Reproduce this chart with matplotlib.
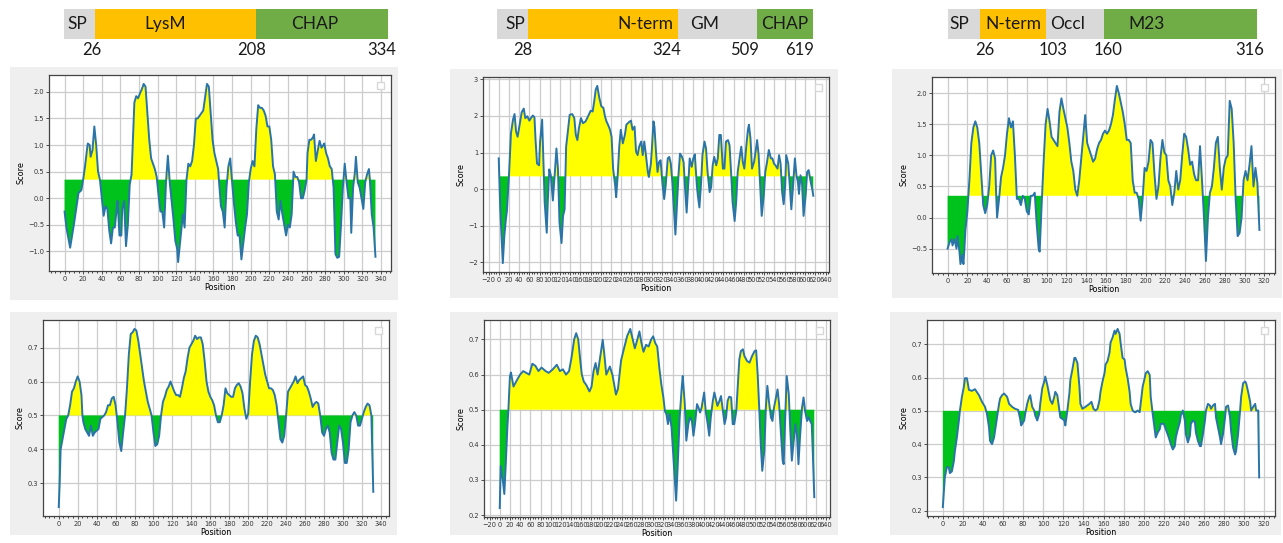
import numpy as np
import matplotlib
matplotlib.use('Agg')
import matplotlib.pyplot as plt
from matplotlib.patches import Rectangle
from matplotlib.ticker import MultipleLocator, AutoMinorLocator

W, H = 1283, 543

# ---- domain maps (label, end residue) ----
D1_NAMES = ['SP', 'LysM', 'CHAP']
D1_ENDS = [26, 208, 334]
D2_NAMES = ['SP', 'N-term', 'GM', 'CHAP']
D2_ENDS = [28, 324, 509, 619]
D3_NAMES = ['SP', 'N-term', 'Occl', 'M23']
D3_ENDS = [26, 103, 160, 316]

GREY, ORANGE, GREEN = '#d9d9d9', '#ffc000', '#70ad47'
D1_COLORS = [GREY, ORANGE, GREEN]
D2_COLORS = [GREY, ORANGE, GREY, GREEN]
D3_COLORS = [GREY, ORANGE, GREY, GREEN]

# ---- antigenicity profiles (top row, threshold 0.35) ----
T1_POS = [0, 2, 6, 10, 15, 18, 20, 22, 24, 25, 27, 28, 30, 32, 34, 36, 38, 40, 42, 44,
          46, 48, 50, 52, 54, 56, 57, 59, 61, 62, 64, 66, 68, 70, 72, 73, 75, 77, 79, 81,
          83, 85, 87, 89, 91, 93, 95, 97, 99, 101, 103, 105, 107, 109, 111, 113, 115, 117, 119, 121,
          122, 124, 126, 127, 129, 131, 133, 135, 137, 139, 141, 143, 145, 147, 149, 151, 153, 155, 157, 159,
          161, 163, 165, 166, 168, 170, 172, 174, 176, 178, 180, 182, 184, 186, 188, 190, 192, 194, 196, 198,
          200, 202, 204, 206, 208, 210, 212, 214, 216, 218, 220, 222, 224, 226, 228, 230, 232, 234, 236, 238,
          240, 242, 244, 246, 248, 250, 252, 254, 256, 258, 260, 261, 263, 265, 267, 268, 270, 272, 274, 276,
          278, 279, 281, 283, 285, 287, 289, 291, 293, 295, 297, 299, 301, 303, 305, 307, 308, 310, 312, 313,
          315, 317, 319, 321, 323, 325, 327, 328, 330, 332, 334]
T1_SCORE = [-0.25, -0.55, -0.93, -0.5, 0.1, 0.15, 0.35, 0.6, 0.9, 1.03, 1.0, 0.78, 0.9, 1.35, 1.0, 0.5, 0.35, 0.0, -0.33, -0.15,
            -0.2, -0.6, -0.85, -0.55, -0.55, -0.2, -0.05, -0.7, -0.7, -0.2, -0.05, -0.9, -0.5, 0.25, 0.45, 0.9, 1.8, 1.92, 1.88, 1.97,
            2.05, 2.15, 2.1, 1.6, 1.1, 0.75, 0.65, 0.55, 0.4, 0.05, -0.25, -0.25, -0.55, 0.3, 0.8, 0.3, -0.05, -0.4, -0.8, -0.95,
            -1.2, -0.85, -0.5, -0.3, -0.55, 0.35, 0.65, 0.6, 0.7, 1.0, 1.5, 1.5, 1.55, 1.6, 1.65, 1.9, 2.15, 2.1, 1.6, 1.1,
            0.85, 0.7, 0.55, 0.3, -0.15, -0.25, -0.55, 0.2, 0.6, 0.75, 0.3, -0.1, -0.45, -0.7, -0.7, -1.15, -0.85, -0.55, -0.3, 0.3,
            0.55, 0.7, 0.6, 1.3, 1.75, 1.7, 1.7, 1.65, 1.55, 1.35, 1.35, 1.1, 0.6, 0.45, -0.25, -0.4, -0.05, -0.3, -0.5, -0.7,
            -0.5, -0.55, -0.3, 0.5, 0.4, 0.4, 0.3, 0.0, 0.0, 0.15, 0.35, 0.85, 1.1, 1.1, 1.15, 1.2, 0.7, 0.9, 1.08, 0.95,
            1.0, 1.03, 0.85, 0.75, 0.6, 0.55, 0.2, -1.05, -1.12, -1.1, -0.5, 0.2, 0.65, 0.3, 0.0, 0.0, -0.65, 0.2, 0.5, 0.78,
            0.3, 0.2, 0.0, -0.2, 0.3, 0.45, 0.55, 0.35, -0.3, -0.55, -1.1]

T2_POS = [0, 3, 8, 11, 14, 16, 20, 24, 28, 31, 34, 37, 41, 45, 49, 52, 56, 60, 64, 67,
          70, 72, 75, 79, 81, 85, 87, 90, 94, 96, 99, 102, 106, 110, 113, 116, 119, 123, 126, 129,
          132, 136, 139, 144, 148, 151, 154, 157, 161, 165, 170, 175, 180, 184, 187, 190, 193, 197, 201, 205,
          208, 211, 214, 218, 221, 224, 228, 230, 233, 236, 239, 243, 247, 250, 255, 259, 262, 266, 269, 272,
          275, 279, 282, 285, 288, 292, 294, 298, 300, 303, 305, 308, 311, 314, 317, 321, 324, 327, 331, 334,
          337, 340, 344, 346, 348, 352, 355, 359, 362, 365, 368, 371, 374, 378, 381, 384, 388, 390, 393, 396,
          399, 403, 406, 409, 413, 416, 419, 422, 426, 429, 432, 435, 439, 442, 445, 449, 452, 455, 458, 462,
          465, 468, 472, 475, 478, 481, 485, 488, 490, 493, 496, 500, 503, 506, 509, 512, 515, 519, 522, 525,
          529, 533, 536, 539, 542, 546, 549, 552, 555, 558, 561, 563, 567, 570, 573, 576, 580, 583, 586, 588,
          591, 594, 597, 601, 604, 607, 611, 614, 616]
T2_SCORE = [0.84, -0.55, -2.02, -1.28, -0.82, -0.6, 0.36, 1.53, 1.9, 2.05, 1.57, 1.43, 1.76, 2.1, 2.2, 1.94, 1.99, 1.87, 1.96, 2.01,
            1.96, 1.38, 0.7, 0.65, 1.3, 1.9, 1.02, -0.36, -1.19, -0.36, 0.54, 0.38, -0.31, 0.47, 1.11, 0.56, -0.91, -1.47, -0.73, -0.55,
            1.16, 1.66, 2.03, 2.05, 1.94, 1.48, 1.34, 1.66, 1.94, 1.8, 1.85, 1.99, 2.14, 2.12, 2.4, 2.72, 2.82, 2.49, 2.26, 2.22,
            1.99, 1.85, 1.76, 1.62, 1.43, 0.56, 0.1, -0.22, 0.38, 1.16, 1.62, 1.25, 1.48, 1.76, 1.83, 1.87, 1.62, 1.71, 1.02, 0.93,
            1.16, 1.3, 0.93, 1.3, 0.97, 0.47, 0.33, 0.7, 1.11, 1.85, 1.7, 1.02, 0.47, 0.74, 0.79, 0.1, -0.27, 0.1, 0.84, 0.88,
            0.7, 0.19, -0.73, -1.24, -0.73, 0.38, 0.97, 0.88, 0.74, 0.0, -0.64, 0.1, 0.84, 0.61, 0.84, 0.95, 0.1, -0.18, -0.5, 0.1,
            0.93, 1.3, 1.11, 0.47, -0.08, 0.05, 0.65, 0.88, 0.65, 0.84, 1.48, 1.48, 0.56, 0.56, 1.3, 1.34, 1.2, 0.47, -0.36, -0.87,
            -0.36, 0.47, 0.88, 1.16, 0.74, 0.56, 1.2, 1.62, 1.76, 1.39, 0.56, 0.74, 1.02, 1.34, 0.93, 0.1, -0.73, -0.18, 0.47, 0.7,
            1.07, 0.84, 0.84, 0.7, 0.65, 0.56, 0.93, 0.7, -0.08, -0.41, 0.1, 0.93, 0.7, 0.1, -0.55, 0.0, 0.84, 0.38, 0.19, -0.13,
            0.38, 0.15, -0.73, -0.18, 0.47, 0.52, 0.19, 0.0, -0.18]

T3_POS = [0, 2, 4, 5, 7, 9, 10, 12, 13, 15, 16, 17, 18, 20, 22, 24, 26, 28, 30, 32,
          34, 36, 38, 40, 42, 44, 46, 48, 49, 50, 52, 54, 56, 58, 60, 62, 64, 66, 68, 70,
          72, 74, 76, 78, 80, 82, 84, 86, 88, 90, 92, 93, 95, 97, 99, 101, 103, 105, 107, 109,
          111, 113, 115, 117, 119, 121, 123, 125, 127, 129, 131, 133, 135, 137, 139, 141, 143, 145, 147, 149,
          151, 153, 155, 157, 159, 161, 163, 165, 167, 169, 171, 173, 175, 177, 179, 181, 183, 185, 187, 189,
          191, 193, 195, 197, 199, 201, 203, 205, 207, 209, 211, 213, 215, 217, 219, 221, 223, 225, 227, 229,
          231, 233, 235, 237, 239, 241, 243, 245, 247, 249, 251, 253, 255, 257, 259, 261, 263, 265, 267, 269,
          271, 273, 275, 277, 279, 281, 283, 285, 287, 289, 291, 293, 295, 297, 299, 301, 303, 305, 307, 309,
          311, 313, 315]
T3_SCORE = [-0.5, -0.4, -0.35, -0.45, -0.35, -0.5, -0.3, -0.55, -0.75, -0.6, -0.75, -0.5, -0.2, 0.1, 0.6, 1.2, 1.45, 1.55, 1.45, 1.2,
            0.7, 0.2, 0.07, 0.2, 0.5, 1.0, 1.08, 0.95, 0.4, 0.0, 0.3, 0.65, 0.8, 1.0, 1.35, 1.6, 1.45, 1.55, 1.0, 0.3,
            0.3, 0.2, 0.35, 0.3, 0.1, 0.05, 0.35, 0.35, 0.4, -0.1, -0.5, -0.55, 0.2, 0.9, 1.5, 1.75, 1.55, 1.3, 1.25, 1.2,
            1.15, 1.7, 1.92, 1.75, 1.6, 1.45, 1.2, 0.9, 0.75, 0.45, 0.35, 0.6, 0.95, 1.3, 1.65, 1.2, 1.1, 1.0, 0.9, 0.95,
            1.1, 1.2, 1.25, 1.35, 1.4, 1.35, 1.4, 1.5, 1.65, 1.9, 2.12, 2.0, 1.85, 1.7, 1.5, 1.25, 1.25, 1.2, 0.6, 0.4,
            0.4, 0.3, -0.05, 0.3, 0.8, 0.75, 0.9, 1.25, 1.2, 0.7, 0.3, 0.5, 0.95, 1.25, 1.05, 1.0, 0.6, 0.5, 0.2, 0.4,
            0.75, 0.45, 0.6, 1.0, 1.35, 1.3, 1.1, 0.85, 0.9, 0.7, 0.6, 0.6, 1.15, 0.6, 0.0, -0.7, 0.0, 0.4, 0.5, 0.8,
            1.2, 1.3, 0.8, 0.45, 0.8, 0.95, 1.0, 1.88, 1.75, 1.2, 0.3, -0.3, -0.25, 0.0, 0.6, 0.75, 0.6, 0.85, 1.15, 0.5,
            0.8, 0.55, -0.2]

# ---- surface probability profiles (bottom row, threshold 0.5) ----
B1_POS = [0, 1, 2, 4, 6, 8, 10, 12, 14, 16, 18, 20, 22, 24, 25, 26, 28, 30, 32, 34,
          36, 38, 40, 42, 44, 46, 48, 50, 52, 54, 56, 58, 60, 62, 64, 66, 68, 70, 72, 74,
          76, 78, 80, 82, 84, 86, 88, 90, 92, 94, 96, 98, 100, 102, 104, 106, 108, 110, 112, 114,
          116, 118, 120, 122, 124, 126, 128, 130, 132, 134, 136, 138, 140, 142, 144, 146, 148, 150, 152, 154,
          156, 158, 160, 162, 164, 166, 168, 170, 172, 174, 176, 178, 180, 182, 184, 186, 188, 190, 192, 194,
          196, 198, 200, 202, 204, 206, 208, 210, 212, 214, 216, 218, 220, 222, 224, 226, 228, 230, 232, 234,
          236, 238, 240, 242, 244, 246, 248, 250, 252, 254, 256, 258, 260, 262, 264, 266, 268, 270, 272, 274,
          276, 278, 280, 282, 284, 286, 288, 290, 292, 294, 296, 298, 300, 302, 304, 306, 308, 310, 312, 314,
          316, 318, 320, 322, 324, 326, 328, 330, 332]
B1_SCORE = [0.23, 0.3, 0.4, 0.43, 0.46, 0.49, 0.5, 0.53, 0.57, 0.58, 0.6, 0.615, 0.6, 0.56, 0.5, 0.48, 0.46, 0.45, 0.44, 0.47,
            0.44, 0.45, 0.455, 0.46, 0.49, 0.495, 0.5, 0.51, 0.53, 0.53, 0.55, 0.555, 0.53, 0.48, 0.42, 0.395, 0.45, 0.5, 0.58, 0.68,
            0.74, 0.745, 0.755, 0.75, 0.72, 0.68, 0.64, 0.6, 0.57, 0.54, 0.52, 0.5, 0.45, 0.41, 0.415, 0.44, 0.5, 0.54, 0.555, 0.575,
            0.585, 0.6, 0.585, 0.57, 0.56, 0.56, 0.555, 0.58, 0.61, 0.63, 0.67, 0.7, 0.71, 0.72, 0.735, 0.725, 0.73, 0.73, 0.71, 0.66,
            0.6, 0.57, 0.555, 0.545, 0.53, 0.5, 0.48, 0.48, 0.5, 0.53, 0.58, 0.565, 0.56, 0.555, 0.555, 0.58, 0.59, 0.595, 0.585, 0.565,
            0.52, 0.49, 0.505, 0.6, 0.68, 0.72, 0.735, 0.73, 0.71, 0.68, 0.65, 0.62, 0.6, 0.58, 0.58, 0.575, 0.56, 0.53, 0.48, 0.43,
            0.42, 0.44, 0.5, 0.57, 0.58, 0.59, 0.6, 0.615, 0.595, 0.605, 0.61, 0.615, 0.59, 0.585, 0.57, 0.55, 0.525, 0.535, 0.54, 0.535,
            0.5, 0.45, 0.44, 0.46, 0.47, 0.45, 0.39, 0.37, 0.37, 0.42, 0.47, 0.46, 0.42, 0.36, 0.36, 0.4, 0.48, 0.5, 0.51, 0.5,
            0.47, 0.47, 0.49, 0.51, 0.525, 0.535, 0.53, 0.5, 0.275]

B2_POS = [0, 2, 6, 9, 12, 15, 17, 20, 22, 27, 34, 40, 46, 52, 58, 64, 70, 76, 82, 90,
          96, 104, 112, 118, 124, 130, 136, 141, 146, 150, 154, 158, 161, 165, 170, 176, 180, 184, 188, 192,
          196, 202, 205, 209, 216, 221, 228, 232, 238, 243, 250, 256, 261, 265, 270, 274, 278, 282, 287, 292,
          297, 301, 305, 309, 313, 317, 321, 324, 327, 330, 333, 337, 342, 346, 349, 353, 357, 359, 363, 366,
          370, 373, 377, 380, 383, 387, 390, 393, 396, 401, 404, 408, 411, 414, 418, 421, 424, 427, 431, 434,
          437, 441, 444, 447, 450, 454, 457, 460, 464, 467, 470, 473, 477, 480, 485, 490, 495, 500, 503, 506,
          509, 512, 515, 519, 522, 525, 528, 532, 535, 538, 542, 545, 548, 551, 555, 557, 560, 563, 567, 570,
          573, 576, 580, 583, 586, 589, 593, 596, 599, 603, 606, 609, 612, 614, 617]
B2_SCORE = [0.22, 0.34, 0.3, 0.26, 0.35, 0.45, 0.5, 0.595, 0.606, 0.566, 0.585, 0.6, 0.61, 0.605, 0.6, 0.631, 0.625, 0.61, 0.62, 0.61,
            0.605, 0.615, 0.628, 0.61, 0.615, 0.6, 0.61, 0.65, 0.7, 0.718, 0.7, 0.64, 0.6, 0.58, 0.57, 0.552, 0.565, 0.61, 0.633, 0.6,
            0.64, 0.699, 0.66, 0.6, 0.623, 0.6, 0.543, 0.56, 0.64, 0.67, 0.71, 0.73, 0.7, 0.675, 0.7, 0.723, 0.69, 0.665, 0.685, 0.68,
            0.7, 0.709, 0.69, 0.68, 0.62, 0.572, 0.535, 0.496, 0.487, 0.459, 0.487, 0.45, 0.336, 0.241, 0.336, 0.478, 0.563, 0.596, 0.516, 0.412,
            0.459, 0.478, 0.468, 0.426, 0.459, 0.516, 0.506, 0.492, 0.506, 0.549, 0.496, 0.459, 0.426, 0.478, 0.525, 0.549, 0.53, 0.511, 0.525, 0.539,
            0.506, 0.459, 0.478, 0.525, 0.537, 0.535, 0.459, 0.459, 0.496, 0.572, 0.643, 0.667, 0.672, 0.653, 0.639, 0.634, 0.653, 0.667, 0.669, 0.6,
            0.506, 0.402, 0.326, 0.383, 0.506, 0.568, 0.525, 0.478, 0.468, 0.506, 0.535, 0.558, 0.516, 0.449, 0.355, 0.345, 0.478, 0.596, 0.544, 0.44,
            0.355, 0.402, 0.459, 0.43, 0.345, 0.421, 0.506, 0.535, 0.496, 0.468, 0.478, 0.468, 0.459, 0.383, 0.251]

B3_POS = [0, 2, 4, 6, 7, 9, 11, 12, 14, 16, 17, 19, 21, 22, 24, 26, 29, 32, 36, 39,
          42, 44, 46, 47, 49, 51, 52, 54, 56, 57, 59, 61, 64, 66, 69, 72, 75, 77, 78, 81,
          82, 84, 86, 87, 89, 91, 92, 94, 96, 97, 99, 101, 102, 104, 106, 107, 109, 111, 112, 114,
          116, 117, 119, 121, 122, 124, 126, 127, 129, 131, 132, 134, 136, 137, 139, 142, 146, 148, 150, 152,
          154, 156, 157, 159, 161, 162, 164, 166, 167, 169, 171, 172, 174, 176, 177, 179, 181, 182, 184, 186,
          187, 189, 191, 192, 194, 196, 197, 199, 201, 202, 204, 206, 207, 209, 211, 212, 214, 216, 217, 220,
          222, 225, 227, 229, 231, 232, 234, 236, 237, 239, 241, 242, 244, 246, 247, 249, 251, 252, 254, 256,
          257, 259, 261, 262, 264, 266, 267, 269, 271, 272, 274, 276, 277, 279, 281, 282, 284, 286, 287, 289,
          291, 292, 294, 296, 297, 299, 301, 302, 304, 306, 307, 309, 311, 312, 314, 315]
B3_SCORE = [0.211, 0.3, 0.331, 0.33, 0.313, 0.318, 0.349, 0.379, 0.42, 0.471, 0.5, 0.542, 0.573, 0.598, 0.598, 0.563, 0.56, 0.565, 0.547, 0.527,
            0.512, 0.49, 0.45, 0.41, 0.4, 0.42, 0.44, 0.48, 0.521, 0.537, 0.547, 0.552, 0.542, 0.521, 0.512, 0.506, 0.503, 0.476, 0.456, 0.471,
            0.491, 0.521, 0.542, 0.547, 0.512, 0.501, 0.486, 0.471, 0.491, 0.521, 0.568, 0.588, 0.603, 0.578, 0.547, 0.532, 0.521, 0.542, 0.557, 0.547,
            0.501, 0.48, 0.476, 0.471, 0.456, 0.501, 0.552, 0.593, 0.624, 0.659, 0.659, 0.644, 0.573, 0.521, 0.506, 0.512, 0.521, 0.527, 0.506, 0.501,
            0.506, 0.532, 0.557, 0.588, 0.613, 0.639, 0.649, 0.675, 0.705, 0.72, 0.741, 0.731, 0.746, 0.731, 0.705, 0.659, 0.654, 0.629, 0.598, 0.557,
            0.521, 0.501, 0.496, 0.496, 0.501, 0.496, 0.521, 0.573, 0.598, 0.613, 0.619, 0.608, 0.542, 0.49, 0.445, 0.42, 0.435, 0.445, 0.461, 0.461,
            0.445, 0.42, 0.4, 0.384, 0.394, 0.42, 0.445, 0.466, 0.486, 0.501, 0.471, 0.43, 0.405, 0.425, 0.461, 0.471, 0.466, 0.435, 0.41, 0.394,
            0.394, 0.43, 0.471, 0.501, 0.521, 0.516, 0.506, 0.516, 0.521, 0.48, 0.45, 0.42, 0.4, 0.43, 0.48, 0.512, 0.516, 0.48, 0.44, 0.39,
            0.369, 0.379, 0.43, 0.501, 0.542, 0.583, 0.588, 0.583, 0.557, 0.527, 0.501, 0.512, 0.521, 0.501, 0.501, 0.3]


def px_box(left, top, right, bottom):
    """Pixel box on the canvas -> figure-fraction [x, y, w, h]."""
    return [left / W, 1 - bottom / H, (right - left) / W, (bottom - top) / H]


def domain_bar(fig, box, names, ends, colors, edges, name_x, num_x):
    ax = fig.add_axes(px_box(*box))
    ax.set_xlim(0, 1)
    ax.set_ylim(0, 1)
    ax.axis('off')
    for i, (name, col) in enumerate(zip(names, colors)):
        ax.add_patch(Rectangle((edges[i], 0), edges[i + 1] - edges[i], 1,
                               facecolor=col, edgecolor='none'))
        ax.text(name_x[i], 0.5, name, ha='center', va='center',
                fontsize=12.5, family='Lato', color='#1a1a1a')
    for x, n in zip(num_x, ends):
        ax.text(x, -0.38, str(n), ha='center', va='center',
                fontsize=12, family='Lato', color='#1a1a1a', clip_on=False)


def profile(fig, bg, box, pos, score, thr, ystep):
    fig.add_artist(Rectangle((bg[0] / W, 1 - bg[3] / H), (bg[2] - bg[0]) / W,
                             (bg[3] - bg[1]) / H, transform=fig.transFigure,
                             facecolor='#efefef', edgecolor='none', zorder=-5))
    pos = np.asarray(pos, dtype=float)
    score = np.asarray(score, dtype=float)
    ax = fig.add_axes(px_box(*box))
    ax.fill_between(pos, score, thr, where=score >= thr, interpolate=True,
                    color='#ffff00', linewidth=0)
    ax.fill_between(pos, score, thr, where=score <= thr, interpolate=True,
                    color='#00c21c', linewidth=0)
    ax.plot(pos, score, color='#2b74a8', linewidth=1.4)

    ax.xaxis.set_major_locator(MultipleLocator(20))
    ax.xaxis.set_minor_locator(AutoMinorLocator())
    ax.yaxis.set_major_locator(MultipleLocator(ystep))
    ax.grid(True, color='#cccccc', linewidth=0.9)
    ax.set_axisbelow(True)
    ax.tick_params(labelsize=4.8, length=2, width=0.6, pad=1.5, colors='#333333')
    ax.tick_params(which='minor', length=1.2, width=0.5)
    for s in ax.spines.values():
        s.set_color('#444444')
        s.set_linewidth(0.9)
    ax.set_xlabel('Position', fontsize=5.8, labelpad=1)
    ax.set_ylabel('Score', fontsize=5.8, labelpad=2)
    ax.legend(handles=[], loc='upper right', borderpad=0.25, fancybox=False,
              framealpha=1, edgecolor='#d8d8d8')
    return ax


fig = plt.figure(figsize=(W / 100, H / 100), dpi=100)

# domain maps
domain_bar(fig, (64, 9, 388, 39), D1_NAMES, D1_ENDS, D1_COLORS,
           [0, 0.096, 0.593, 1], [0.04, 0.312, 0.775], [0.086, 0.58, 0.981])
domain_bar(fig, (497, 9, 813, 39), D2_NAMES, D2_ENDS, D2_COLORS,
           [0, 0.098, 0.573, 0.823, 1], [0.057, 0.468, 0.658, 0.911],
           [0.082, 0.538, 0.782, 0.959])
domain_bar(fig, (948, 9, 1257, 39), D3_NAMES, D3_ENDS, D3_COLORS,
           [0, 0.104, 0.317, 0.505, 1], [0.036, 0.21, 0.388, 0.644],
           [0.12, 0.34, 0.518, 0.977])

# top row
profile(fig, (10, 67, 398, 300), (49, 75, 391, 271), T1_POS, T1_SCORE, 0.35, 0.5)
profile(fig, (450, 69, 838, 298), (483, 77, 829, 272), T2_POS, T2_SCORE, 0.35, 1)
profile(fig, (892, 69, 1282, 298), (932, 77, 1275, 273), T3_POS, T3_SCORE, 0.35, 0.5)

# bottom row
profile(fig, (10, 312, 397, 535), (43, 320, 389, 516), B1_POS, B1_SCORE, 0.5, 0.1)
profile(fig, (450, 312, 838, 535), (484, 320, 830, 517), B2_POS, B2_SCORE, 0.5, 0.1)
profile(fig, (890, 312, 1281, 535), (927, 320, 1275, 516), B3_POS, B3_SCORE, 0.5, 0.1)

fig.savefig('out.png', dpi=100)
